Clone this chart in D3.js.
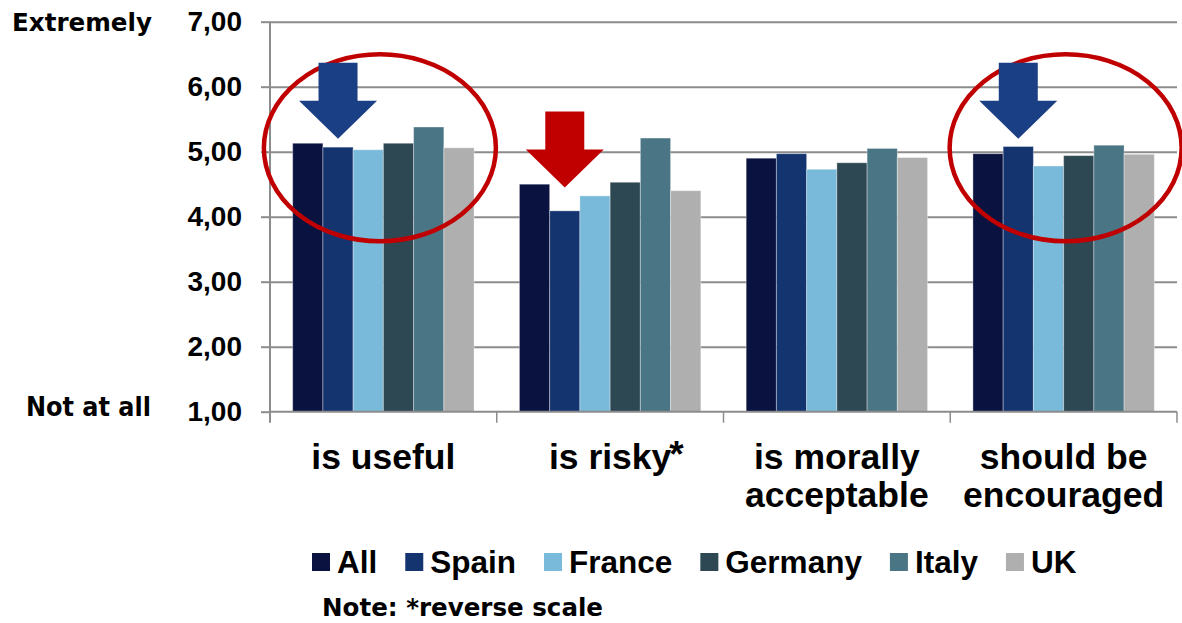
<!DOCTYPE html>
<html>
<head>
<meta charset="utf-8">
<script src="https://cdn.jsdelivr.net/npm/d3@7"></script>
<style>
  html, body { margin: 0; padding: 0; background: #ffffff; }
  svg { display: block; }
</style>
</head>
<body>
<svg id="chart" width="1182" height="623"></svg>
<script>
// Attitude scores (1 = not at all, 7 = extremely) by country
const categoryLines = [["is useful"], ["is risky"], ["is morally", "acceptable"], ["should be", "encouraged"]];
const categoryKeys = ["useful", "risky", "moral", "encouraged"];
const seriesNames = ["All", "Spain", "France", "Germany", "Italy", "UK"];
const seriesColors = ["#0a1240", "#143470", "#79b9d9", "#2d4853", "#4a7584", "#afafaf"];

const valuesAll     = [5.13, 4.50, 4.90, 4.97];
const valuesSpain   = [5.07, 4.09, 4.97, 5.08];
const valuesFrance  = [5.03, 4.32, 4.73, 4.78];
const valuesGermany = [5.13, 4.53, 4.83, 4.94];
const valuesItaly   = [5.38, 5.21, 5.05, 5.10];
const valuesUK      = [5.06, 4.40, 4.91, 4.96];

const yTicks = [1, 2, 3, 4, 5, 6, 7];

// Call-outs: arrows pointing at a bar, ellipses around a group
const arrowNotes = [
  { cat: "useful", series: "Spain", tip: 5.20, color: "#1b3f84" },
  { cat: "risky", series: "Spain", tip: 4.45, color: "#c00000" },
  { cat: "encouraged", series: "Spain", tip: 5.20, color: "#1b3f84" }
];
const ringNotes = [
  { cat: "useful", center: 5.06, nudge: -3.5 },
  { cat: "encouraged", center: 5.06, nudge: 2 }
];

const seriesValues = [valuesAll, valuesSpain, valuesFrance, valuesGermany, valuesItaly, valuesUK];
const rows = categoryKeys.map((k, i) => ({
  key: k,
  bars: seriesNames.map((s, j) => ({ series: s, value: seriesValues[j][i], color: seriesColors[j] }))
}));

const svg = d3.select("#chart");
const plot = { left: 270, right: 1177, top: 21.7, bottom: 411.7 };

const x0 = d3.scaleBand().domain(categoryKeys).range([plot.left, plot.right]).padding(0);
const x1 = d3.scaleBand().domain(seriesNames).range([0, x0.bandwidth()]).paddingInner(0).paddingOuter(0.75);
const y = d3.scaleLinear().domain([1, 7]).range([plot.bottom, plot.top]);

const comma = d3.formatLocale({ decimal: ",", thousands: ".", grouping: [3], currency: ["", ""] }).format(".2f");
const gridColor = "#8c8c8c";

// horizontal gridlines
svg.append("g")
  .attr("transform", `translate(${plot.left},0)`)
  .call(d3.axisLeft(y).tickValues(yTicks.slice(1)).tickSize(-(plot.right - plot.left)).tickFormat(""))
  .call(g => g.select(".domain").remove())
  .call(g => g.selectAll("line").attr("stroke", gridColor).attr("stroke-width", 2));

// bars
const groups = svg.append("g").selectAll("g")
  .data(rows).join("g")
  .attr("transform", d => `translate(${x0(d.key)},0)`);

groups.selectAll("rect")
  .data(d => d.bars).join("rect")
  .attr("x", d => x1(d.series))
  .attr("y", d => y(d.value))
  .attr("width", x1.bandwidth())
  .attr("height", d => y(1) - y(d.value))
  .attr("fill", d => d.color)
  .attr("stroke", "rgba(255,255,255,0.35)")
  .attr("stroke-width", 1);

// y axis
svg.append("g")
  .attr("transform", `translate(${plot.left},0)`)
  .call(d3.axisLeft(y).tickValues(yTicks).tickSize(9).tickPadding(19).tickFormat(comma))
  .call(g => g.select(".domain").attr("stroke", gridColor).attr("stroke-width", 2)
      .attr("d", `M0,${plot.top}V${plot.bottom + 11}`))
  .call(g => g.selectAll(".tick line").attr("stroke", gridColor).attr("stroke-width", 2))
  .call(g => g.selectAll(".tick text")
      .attr("font-family", "'Liberation Sans', Arial, sans-serif")
      .attr("font-weight", "bold")
      .attr("font-size", 28)
      .attr("fill", "#000"));

// x axis baseline with group separators
const xAxis = svg.append("g");
xAxis.append("line")
  .attr("x1", plot.left).attr("x2", plot.right)
  .attr("y1", y(1)).attr("y2", y(1))
  .attr("stroke", gridColor).attr("stroke-width", 2);
const separators = categoryKeys.map(k => x0(k) + x0.bandwidth());
xAxis.selectAll("line.sep")
  .data(separators).join("line")
  .attr("class", "sep")
  .attr("x1", d => d).attr("x2", d => d)
  .attr("y1", y(1)).attr("y2", y(1) + 11)
  .attr("stroke", gridColor).attr("stroke-width", 1.5);

// category labels, one text per line
const labelFont = "'Liberation Sans', Arial, sans-serif";
rows.forEach((r, i) => {
  const cx = x0(r.key) + x0.bandwidth() / 2;
  categoryLines[i].forEach((line, li) => {
    const t = svg.append("text")
      .attr("x", cx).attr("y", 469 + li * 38)
      .attr("text-anchor", "middle")
      .attr("font-family", labelFont)
      .attr("font-weight", "bold")
      .attr("font-size", 35.5)
      .attr("fill", "#000")
      .text(line);
    if (r.key === "risky") {
      const w = t.node().getComputedTextLength();
      svg.append("text")
        .attr("x", cx + w / 2 - 2).attr("y", 467)
        .attr("font-family", labelFont)
        .attr("font-weight", "bold")
        .attr("font-size", 37)
        .attr("fill", "#000")
        .text("*");
    }
  });
});

// scale end labels
const sideFont = "'DejaVu Sans', 'Noto Sans', sans-serif";
svg.append("text")
  .attr("x", 12).attr("y", 31)
  .attr("font-family", sideFont).attr("font-weight", "bold").attr("font-size", 25)
  .attr("textLength", 140).attr("lengthAdjust", "spacingAndGlyphs")
  .attr("fill", "#000").text("Extremely");
svg.append("text")
  .attr("x", 26).attr("y", 415.5)
  .attr("font-family", sideFont).attr("font-weight", "bold").attr("font-size", 27)
  .attr("textLength", 125).attr("lengthAdjust", "spacingAndGlyphs")
  .attr("fill", "#000").text("Not at all");

// highlight ellipses
svg.append("g").selectAll("ellipse")
  .data(ringNotes).join("ellipse")
  .attr("cx", d => x0(d.cat) + x0.bandwidth() / 2 + d.nudge)
  .attr("cy", d => y(d.center))
  .attr("rx", 116)
  .attr("ry", 93.5)
  .attr("fill", "none")
  .attr("stroke", "#c00000")
  .attr("stroke-width", 4.5);

// block arrows
const shaftHalf = 19.5, headHalf = 39, headLen = 38, totalLen = 76;
svg.append("g").selectAll("path")
  .data(arrowNotes).join("path")
  .attr("d", d => {
    const tx = x0(d.cat) + x1(d.series) + x1.bandwidth() / 2;
    const ty = y(d.tip);
    const top = ty - totalLen, neck = ty - headLen;
    return `M${tx - shaftHalf},${top}H${tx + shaftHalf}V${neck}H${tx + headHalf}L${tx},${ty}L${tx - headHalf},${neck}H${tx - shaftHalf}Z`;
  })
  .attr("fill", d => d.color);

// legend
const legend = svg.append("g");
let lx = 312;
seriesNames.forEach((s, i) => {
  legend.append("rect")
    .attr("x", lx).attr("y", 553).attr("width", 18).attr("height", 18)
    .attr("fill", seriesColors[i]);
  const t = legend.append("text")
    .attr("x", lx + 25).attr("y", 573)
    .attr("font-family", labelFont).attr("font-weight", "bold").attr("font-size", 31.5)
    .attr("fill", "#000").text(s);
  lx += 25 + t.node().getComputedTextLength() + 28;
});

svg.append("text")
  .attr("x", 322).attr("y", 616)
  .attr("font-family", sideFont).attr("font-weight", "bold").attr("font-size", 24)
  .attr("textLength", 281).attr("lengthAdjust", "spacingAndGlyphs")
  .attr("fill", "#000").text("Note: *reverse scale");
</script>
</body>
</html>
